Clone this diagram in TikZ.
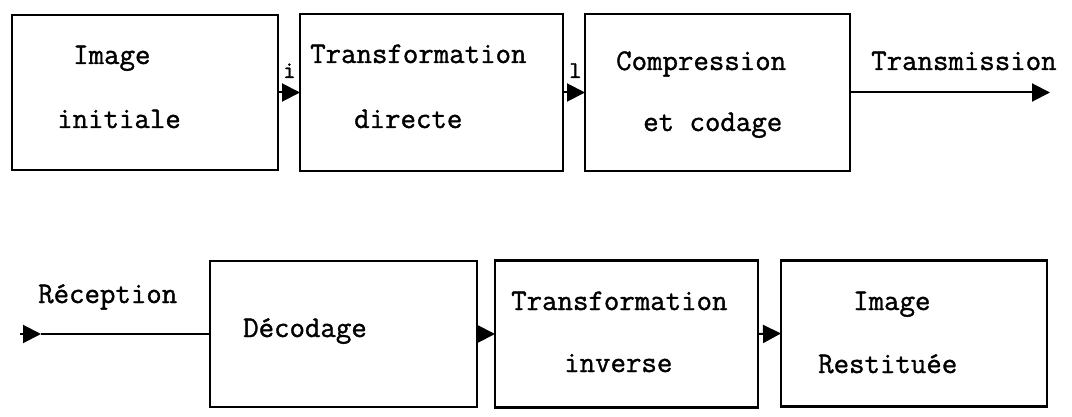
\documentclass[tikz,border=0pt]{standalone}
\usepackage{fontspec}
\setmainfont[FakeBold=1.2]{Latin Modern Mono}
\usetikzlibrary{arrows.meta}
\tikzset{
  box/.style={draw, line width=2.6pt, rectangle, inner sep=0pt, outer sep=0pt},
  lbl/.style={anchor=base west, inner sep=0pt, font=\fontsize{30}{34}\selectfont},
  small/.style={anchor=base west, inner sep=0pt, font=\fontsize{24}{26}\selectfont},
  arr/.style={line width=2pt, -{Triangle[length=18pt,width=18pt]}},
  conn/.style={line width=2pt}
}
\begin{document}
\begin{tikzpicture}[x=1pt,y=-1pt]
\useasboundingbox (0,0) rectangle (1072,417);
% top row boxes
\node[box, minimum width=266pt, minimum height=155pt] (b1) at (145,92.5) {};
\node[box, minimum width=263pt, minimum height=157pt] (b2) at (431.5,92.5) {};
\node[box, minimum width=265pt, minimum height=157pt] (b3) at (717.5,92.5) {};
% bottom row boxes
\node[box, minimum width=267pt, minimum height=146pt] (b4) at (343.5,334) {};
\node[box, minimum width=263pt, minimum height=147pt] (b5) at (626.5,334) {};
\node[box, minimum width=266pt, minimum height=146pt] (b6) at (914,333.5) {};
% texts top
\node[lbl] (t1a) at (73,64) {Image};
\node[lbl] (t1b) at (57,128) {initiale};
\node[lbl] (t2a) at (310,63) {Transformation};
\node[lbl] (t2b) at (354,128) {directe};
\node[lbl] (t3a) at (616,70) {Compression};
\node[lbl] (t3b) at (643,131) {et codage};
\node[lbl] (tr) at (871,70) {Transmission};
\node[small] (li) at (283,78) {i};
\node[small] (ll) at (569,78) {l};
% texts bottom
\node[lbl] (rec) at (38,303) {Réception};
\node[lbl] (dec) at (243,337) {Décodage};
\node[lbl] (inv1) at (511,310) {Transformation};
\node[lbl] (inv2) at (564,372) {inverse};
\node[lbl] (res1) at (853,310) {Image};
\node[lbl] (res2) at (818,373) {Restituée};
% connectors
\coordinate (tx) at (1050,92.5);
\draw[arr] (b1.east) -- (b2.west);
\draw[arr] (b2.east) -- (b3.west);
\draw[arr] (b3.east) -- (tx);
\coordinate (r0) at (20,334);
\coordinate (r1) at (41,334);
\draw[arr] (r0) -- (r1);
\draw[conn] (r1) -- (b4.west);
\draw[arr] (b4.east) -- (b5.west);
\draw[arr] (b5.east) -- (b6.west);
\end{tikzpicture}
\end{document}
